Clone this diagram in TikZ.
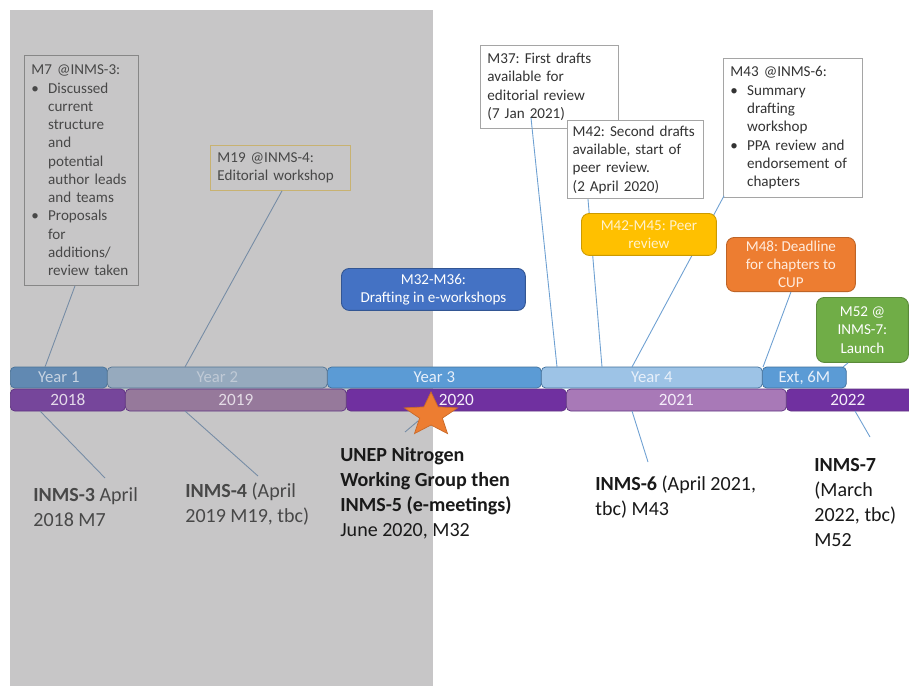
\documentclass[tikz,border=0pt]{standalone}
\usepackage{fontspec}
\setmainfont{Carlito}
\usepackage{tikz}
\usetikzlibrary{positioning}
\definecolor{bggray}{RGB}{199,198,199}
\definecolor{yrblue}{RGB}{91,155,213}
\definecolor{yrlight}{RGB}{157,195,230}
\definecolor{yredge}{RGB}{65,113,156}
\definecolor{yrblueg}{RGB}{97,137,178}
\definecolor{yrlightg}{RGB}{150,170,190}
\definecolor{calpurple}{RGB}{112,48,160}
\definecolor{calmauve}{RGB}{168,121,183}
\definecolor{caledge}{RGB}{96,52,130}
\definecolor{calpurpleg}{RGB}{118,70,155}
\definecolor{calmauveg}{RGB}{150,121,155}
\definecolor{draftblue}{RGB}{68,114,196}
\definecolor{peeryellow}{RGB}{255,192,0}
\definecolor{cuporange}{RGB}{237,125,49}
\definecolor{launchgreen}{RGB}{112,173,71}
\definecolor{notegray}{RGB}{165,165,165}
\definecolor{notegold}{RGB}{200,178,113}
\definecolor{lnkblue}{RGB}{110,160,210}
\definecolor{lnkgray}{RGB}{118,140,165}
\definecolor{dimtext}{RGB}{72,72,72}
\newcommand\bul{\makebox[9.5pt][l]{\textbullet}}
\newcommand\bin{\hspace*{9.5pt}}
\tikzset{
  yrbar/.style={draw=yredge,line width=0.4pt,rounded corners=2.5pt,minimum height=0.42cm,inner sep=0pt,anchor=west,text={rgb,255:red,232;green,240;blue,250},font=\fontsize{9.5}{11}\selectfont},
  calbar/.style={draw=caledge,line width=0.4pt,rounded corners=2.5pt,minimum height=0.44cm,inner sep=0pt,anchor=west,text={rgb,255:red,245;green,238;blue,250},font=\fontsize{9.8}{11}\selectfont},
  note/.style={draw=notegray,fill=white,line width=0.5pt,anchor=north west,align=left,inner xsep=4pt,inner ysep=3pt,text=black!80,font=\fontsize{8.6}{10.4}\selectfont\frenchspacing},
  dimnote/.style={note,fill=bggray,draw={rgb,255:red,135;green,135;blue,135},text=dimtext},
  tag/.style={rounded corners=4.5pt,line width=0.5pt,anchor=north west,align=center,inner sep=2pt,font=\fontsize{8.6}{10.4}\selectfont\frenchspacing},
  lnk/.style={draw=lnkblue,line width=0.5pt},
  dimlnk/.style={draw=lnkgray,line width=0.5pt},
  evt/.style={anchor=north west,align=left,inner sep=0pt,text=black!90,font=\fontsize{11.4}{14.2}\selectfont\frenchspacing}
}

\begin{document}
\begin{tikzpicture}[x=0.02cm,y=-0.02cm]
  \clip (0,0) rectangle (909,686);
  \fill[white] (0,0) rectangle (909,686);
  \fill[bggray] (10,10) rectangle (433,686);

  \node[yrbar,fill=yrblueg,draw=yredge!85!gray,text={rgb,255:red,200;green,212;blue,226},minimum width=1.94cm] (yr1) at (10,377.5) {Year 1};
  \node[yrbar,fill=yrblue,minimum width=4.28cm] (yr3) at (327,377.5) {Year 3};
  \node[yrbar,fill=yrblue,minimum width=1.68cm] (ext) at (762,377.5) {Ext, 6M};
  \node[yrbar,fill=yrlightg,draw=yredge!70!gray,text={rgb,255:red,192;green,202;blue,214},minimum width=4.4cm] (yr2) at (107,377.5) {Year 2};
  \node[yrbar,fill=yrlight,minimum width=4.42cm] (yr4) at (541,377.5) {Year 4};

  \node[calbar,fill=calpurpleg,text={rgb,255:red,228;green,218;blue,234},minimum width=2.3cm] (c18) at (10,400) {2018};
  \node[calbar,fill=calpurple,minimum width=4.4cm] (c20) at (346,400) {2020};
  \node[calbar,fill=calpurple,minimum width=2.6cm] (c22) at (786,400) {\hspace*{-0.14cm}2022};
  \node[calbar,fill=calmauveg,text={rgb,255:red,228;green,220;blue,230},minimum width=4.42cm] (c19) at (125,400) {2019};
  \node[calbar,fill=calmauve,minimum width=4.4cm] (c21) at (566,400) {2021};

  \node[dimnote,text width=2.0cm,minimum height=4.6cm] (m7) at (24,55) {M7 @INMS-3:\\
    \bul Discussed\\ \bin current\\ \bin structure\\ \bin and\\ \bin potential\\
    \bin author leads\\ \bin and teams\\ \bul Proposals\\ \bin for\\ \bin additions/\\ \bin review taken};
  \node[dimnote,draw=notegold,text width=2.52cm,minimum height=0.9cm] (m19) at (210,145) {M19 @INMS-4:\\Editorial workshop};
  \node[note,text width=2.48cm,minimum height=1.66cm] (m37) at (480,45) {M37: First drafts\\available for\\editorial review\\(7 Jan 2021)};
  \node[note,inner xsep=3pt,text width=2.5cm,minimum height=1.56cm] (m42) at (567,120) {M42: Second drafts\\available, start of\\peer review.\\(2 April 2020)};
  \node[note,text width=2.5cm,minimum height=2.78cm] (m43) at (723,58) {M43 @INMS-6:\\
    \bul Summary\\ \bin drafting\\ \bin workshop\\ \bul PPA review and\\ \bin endorsement of\\ \bin chapters};

  \coordinate (t7) at (45,367);
  \coordinate (t19) at (185,367);
  \coordinate (t37) at (557,367);
  \coordinate (t42) at (602,367);
  \coordinate (t43) at (632,367);
  \coordinate (t48) at (763,367);
  \coordinate (t52) at (843,367);
  \draw[dimlnk] (m7.south west) ++(51,0) -- (t7);
  \draw[dimlnk] (m19.south west) ++(72,0) -- (t19);
  \draw[lnk] (m37.south west) ++(51,-11) -- (t37);
  \draw[lnk] (m42.south west) ++(21,0) -- (t42);
  \draw[lnk] (m43.south west) ++(1,-2) -- (t43);

  \node[tag,fill=peeryellow,draw=peeryellow!80!black,text={rgb,255:red,255;green,242;blue,204},minimum width=2.7cm,minimum height=0.84cm] (m4245) at (581,213) {M42-M45: Peer\\review};
  \node[tag,fill=cuporange,draw=cuporange!80!black,text={rgb,255:red,255;green,236;blue,222},minimum width=2.58cm,minimum height=1.04cm] (m48) at (726,237) {M48: Deadline\\for chapters to\\CUP};
  \node[tag,fill=launchgreen,draw=launchgreen!80!black,text=white,minimum width=1.84cm,minimum height=1.3cm] (m52) at (816,297) {M52 @\\INMS-7:\\Launch};
  \node[tag,fill=draftblue,draw=draftblue!75!black,text=white,minimum width=3.68cm,minimum height=0.84cm] (m32) at (341,268) {M32-M36:\\Drafting in e-workshops};
  \draw[lnk] (m48.south) -- (t48);
  \draw[lnk] (m52.south west) ++(32,0) -- (t52);

  \node[evt,text=dimtext] (inms3) at (33,487) {\textbf{INMS-3} April\\2018 M7};
  \node[evt,text=dimtext] (inms4) at (185,483) {\textbf{INMS-4} (April\\2019 M19, tbc)};
  \node[evt] (unep) at (340,447) {\textbf{UNEP Nitrogen}\\\textbf{Working Group then}\\\textbf{INMS-5 (e-meetings)}\\June 2020, M32};
  \node[evt] (inms6) at (595,476) {\textbf{INMS-6} (April 2021,\\tbc) M43};
  \node[evt] (inms7) at (814,458) {\textbf{INMS-7}\\(March\\2022, tbc)\\M52};

  \coordinate (b3) at (40,411);
  \coordinate (b4) at (185,411);
  \coordinate (starpt) at (418,421);
  \coordinate (b6) at (632,411);
  \coordinate (b7) at (855,411);
  \draw[dimlnk] (inms3.north west) ++(72,-9) -- (b3);
  \draw[dimlnk] (inms4.north west) ++(73,-7) -- (b4);
  \draw[dimlnk] (unep.north west) ++(65,-15) -- (starpt);
  \draw[lnk] (inms6.north west) ++(53,-14) -- (b6);
  \draw[lnk] (inms7.north west) ++(56,-21) -- (b7);

  \filldraw[fill=cuporange,draw=cuporange!85!black,line width=0.4pt]
    (431,392) -- (423.9,406.9) -- (404.4,407.9) -- (419.6,418.1) -- (414.5,433.6)
    -- (431,425) -- (447.5,433.6) -- (442.4,418.1) -- (457.6,407.9) -- (438.1,406.9) -- cycle;
\end{tikzpicture}
\end{document}
